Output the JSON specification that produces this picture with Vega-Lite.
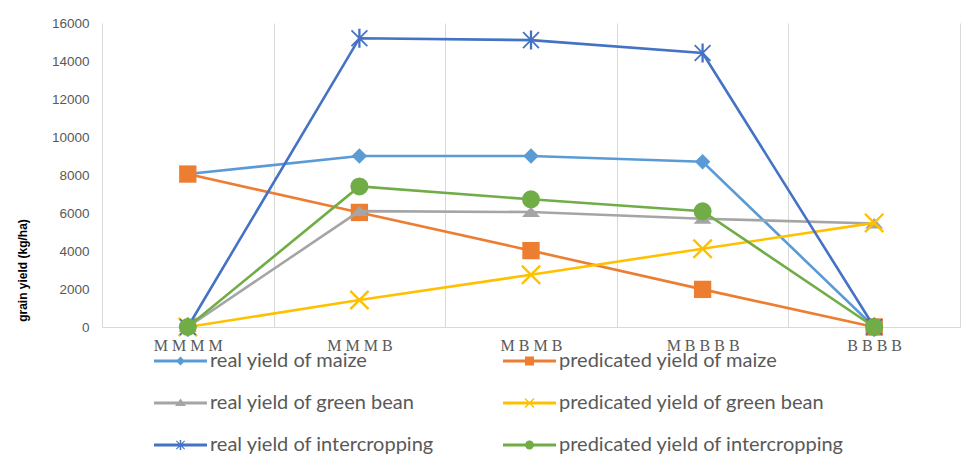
{
  "$schema": "https://vega.github.io/schema/vega-lite/v6.json",
  "autosize": "none",
  "width": 858,
  "height": 304,
  "padding": {"left": 102, "top": 23, "right": 11, "bottom": 144},
  "background": "white",
  "config": {"view": {"stroke": null}},
  "data": {"values": [
    {"treatment": "M M M M", "series": "real yield of maize", "yield": 8050},
    {"treatment": "M M M B", "series": "real yield of maize", "yield": 9000},
    {"treatment": "M B M B", "series": "real yield of maize", "yield": 9000},
    {"treatment": "M B B B B", "series": "real yield of maize", "yield": 8700},
    {"treatment": "B B B B", "series": "real yield of maize", "yield": 0},
    {"treatment": "M M M M", "series": "predicated yield of maize", "yield": 8050},
    {"treatment": "M M M B", "series": "predicated yield of maize", "yield": 6030},
    {"treatment": "M B M B", "series": "predicated yield of maize", "yield": 4020},
    {"treatment": "M B B B B", "series": "predicated yield of maize", "yield": 1980},
    {"treatment": "B B B B", "series": "predicated yield of maize", "yield": 0},
    {"treatment": "M M M M", "series": "real yield of green bean", "yield": 0},
    {"treatment": "M M M B", "series": "real yield of green bean", "yield": 6100},
    {"treatment": "M B M B", "series": "real yield of green bean", "yield": 6050},
    {"treatment": "M B B B B", "series": "real yield of green bean", "yield": 5700},
    {"treatment": "B B B B", "series": "real yield of green bean", "yield": 5450},
    {"treatment": "M M M M", "series": "predicated yield of green bean", "yield": 0},
    {"treatment": "M M M B", "series": "predicated yield of green bean", "yield": 1420},
    {"treatment": "M B M B", "series": "predicated yield of green bean", "yield": 2750},
    {"treatment": "M B B B B", "series": "predicated yield of green bean", "yield": 4120},
    {"treatment": "B B B B", "series": "predicated yield of green bean", "yield": 5480},
    {"treatment": "M M M M", "series": "real yield of intercropping", "yield": 0},
    {"treatment": "M M M B", "series": "real yield of intercropping", "yield": 15200},
    {"treatment": "M B M B", "series": "real yield of intercropping", "yield": 15100},
    {"treatment": "M B B B B", "series": "real yield of intercropping", "yield": 14420},
    {"treatment": "B B B B", "series": "real yield of intercropping", "yield": 0},
    {"treatment": "M M M M", "series": "predicated yield of intercropping", "yield": 0},
    {"treatment": "M M M B", "series": "predicated yield of intercropping", "yield": 7400},
    {"treatment": "M B M B", "series": "predicated yield of intercropping", "yield": 6720},
    {"treatment": "M B B B B", "series": "predicated yield of intercropping", "yield": 6090},
    {"treatment": "B B B B", "series": "predicated yield of intercropping", "yield": 0}
  ]},
  "encoding": {
    "x": {
      "field": "treatment", "type": "nominal",
      "sort": ["M M M M", "M M M B", "M B M B", "M B B B B", "B B B B"],
      "scale": {"paddingInner": 0, "paddingOuter": 0},
      "axis": {
        "title": null, "labelAngle": 0, "ticks": false,
        "tickBand": "extent", "grid": true, "gridColor": "#d9d9d9", "gridWidth": 1,
        "domainColor": "#d9d9d9", "domainWidth": 1,
        "labelFont": "Liberation Serif", "labelFontSize": 16, "labelColor": "#595959",
        "labelPadding": 10
      }
    },
    "y": {
      "field": "yield", "type": "quantitative",
      "scale": {"domain": [0, 16000], "nice": false},
      "axis": {
        "title": "grain yield (kg/ha)", "titleFont": "Liberation Sans", "titleFontSize": 12,
        "titleFontWeight": "bold", "titleColor": "#000000",
        "titleX": -80, "titleY": 247, "titleBaseline": "middle", "titleAngle": -90,
        "values": [0, 2000, 4000, 6000, 8000, 10000, 12000, 14000, 16000],
        "format": "d", "grid": false, "domain": false, "ticks": false,
        "labelFont": "Liberation Sans", "labelFontSize": 13.5, "labelColor": "#595959",
        "labelPadding": 13
      }
    }
  },
  "layer": [
    {
      "mark": {"type": "point", "filled": true, "opacity": 0, "size": 100},
      "encoding": {
        "color": {
          "field": "series", "type": "nominal",
          "scale": {
            "domain": ["real yield of maize", "predicated yield of maize", "real yield of green bean", "predicated yield of green bean", "real yield of intercropping", "predicated yield of intercropping"],
            "range": ["#5B9BD5", "#ED7D31", "#A5A5A5", "#FFC000", "#4472C4", "#70AD47"]
          },
          "legend": {
            "title": null, "orient": "none", "legendX": 47, "legendY": 328, "direction": "horizontal",
            "columns": 2, "columnPadding": 63, "rowPadding": 22, "padding": 0,
            "labelFont": "Lato", "labelFontSize": 20, "labelColor": "#595959", "labelOffset": 41,
            "labelLimit": 400, "symbolSize": 100, "symbolStrokeWidth": 0, "symbolOpacity": 1
          }
        },
        "shape": {
          "field": "series", "type": "nominal",
          "scale": {
            "domain": ["real yield of maize", "predicated yield of maize", "real yield of green bean", "predicated yield of green bean", "real yield of intercropping", "predicated yield of intercropping"],
            "range": [
              "M-1,-0.28H9.6V0.28H-1ZM4.3,-0.9L5.2,0L4.3,0.9L3.4,0Z",
              "M-1,-0.28H9.6V0.28H-1ZM3.4,-0.9H5.2V0.9H3.4Z",
              "M-1,-0.28H9.6V0.28H-1ZM4.3,-0.9L5.4,0.6L3.2,0.6Z",
              "M-1,-0.28H9.6V0.28H-1ZM3.5,-1L5.3,0.8L5.1,1L3.3,-0.8ZM5.1,-1L5.3,-0.8L3.5,1L3.3,0.8Z",
              "M-1,-0.28H9.6V0.28H-1ZM3.55,-0.9L5.2,0.75L5.05,0.9L3.4,-0.75ZM5.05,-0.9L5.2,-0.75L3.55,0.9L3.4,0.75ZM4.15,-1H4.45V1H4.15Z",
              "M-1,-0.28H9.6V0.28H-1ZM5.2,0A0.9,0.9,0,1,1,3.4,0A0.9,0.9,0,1,1,5.2,0Z"
            ]
          },
          "legend": {
            "title": null, "orient": "none", "legendX": 47, "legendY": 328, "direction": "horizontal",
            "columns": 2, "columnPadding": 63, "rowPadding": 22, "padding": 0,
            "labelFont": "Lato", "labelFontSize": 20, "labelColor": "#595959", "labelOffset": 41,
            "labelLimit": 400, "symbolSize": 100, "symbolStrokeWidth": 0, "symbolOpacity": 1
          }
        }
      }
    },
    {
      "transform": [{"filter": "datum.series === 'real yield of maize'"}],
      "mark": {"type": "line", "strokeWidth": 2.6, "color": "#5B9BD5",
        "point": {"filled": true, "opacity": 1, "strokeWidth": 0, "shape": "diamond", "size": 240, "color": "#5B9BD5"}}
    },
    {
      "transform": [{"filter": "datum.series === 'predicated yield of maize'"}],
      "mark": {"type": "line", "strokeWidth": 2.6, "color": "#ED7D31",
        "point": {"filled": true, "opacity": 1, "strokeWidth": 0, "shape": "square", "size": 300, "color": "#ED7D31"}}
    },
    {
      "transform": [{"filter": "datum.series === 'real yield of green bean'"}],
      "mark": {"type": "line", "strokeWidth": 2.6, "color": "#A5A5A5",
        "point": {"filled": true, "opacity": 1, "strokeWidth": 0, "shape": "M0,-0.6L1,0.55L-1,0.55Z", "size": 324, "color": "#A5A5A5"}}
    },
    {
      "transform": [{"filter": "datum.series === 'predicated yield of green bean'"}],
      "mark": {"type": "line", "strokeWidth": 2.6, "color": "#FFC000",
        "point": {"filled": true, "opacity": 1, "strokeWidth": 0, "shape": "M-0.83,-1L1,0.83L0.83,1L-1,-0.83ZM0.83,-1L1,-0.83L-0.83,1L-1,0.83Z", "size": 400, "color": "#FFC000"}}
    },
    {
      "transform": [{"filter": "datum.series === 'real yield of intercropping'"}],
      "mark": {"type": "line", "strokeWidth": 2.6, "color": "#4472C4",
        "point": {"filled": true, "opacity": 1, "strokeWidth": 0, "shape": "M-0.77,-0.9L0.9,0.77L0.77,0.9L-0.9,-0.77ZM0.77,-0.9L0.9,-0.77L-0.77,0.9L-0.9,0.77ZM-0.12,-1H0.12V1H-0.12Z", "size": 361, "color": "#4472C4"}}
    },
    {
      "transform": [{"filter": "datum.series === 'predicated yield of intercropping'"}],
      "mark": {"type": "line", "strokeWidth": 2.6, "color": "#70AD47",
        "point": {"filled": true, "opacity": 1, "strokeWidth": 0, "shape": "circle", "size": 324, "color": "#70AD47"}}
    }
  ]
}
